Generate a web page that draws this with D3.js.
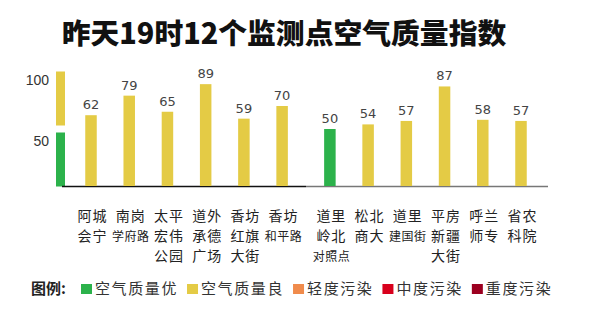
<!DOCTYPE html>
<html><head><meta charset="utf-8">
<script src="https://cdn.jsdelivr.net/npm/d3@7/dist/d3.min.js"></script>
<style>body{margin:0;background:#fff}</style>
</head><body><svg id="c" width="600" height="324"></svg>
<script>
const title = "昨天19时12个监测点空气质量指数";
const stations = [["阿城","会宁"],["南岗","学府路"],["太平","宏伟","公园"],["道外","承德","广场"],["香坊","红旗","大街"],["香坊","和平路"],
                  ["道里","岭北","对照点"],["松北","商大"],["道里","建国街"],["平房","新疆","大街"],["呼兰","师专"],["省农","科院"]];
const aqi = [62,79,65,89,59,70,50,54,57,87,58,57];
const groups = [0,0,0,0,0,0,1,1,1,1,1,1];
const scaleTicks = [50,100];
const legendTitle = "图例:";
const levelNames = ["空气质量优","空气质量良","轻度污染","中度污染","重度污染"];
const levelMax = [50,100,150,200,300];
const levelColors = ["#2cb24b","#e4cb45","#f08b4c","#d8001c","#9c0020"];

const svg = d3.select("#c");
svg.append("rect").attr("width",600).attr("height",324).attr("fill","#fff");

const cjk = "'Noto Sans CJK SC', sans-serif";
svg.append("text").attr("x",284).attr("y",44).attr("text-anchor","middle")
  .attr("font-family",cjk).attr("font-weight",900).attr("font-size",28.8).attr("fill","#111")
  .text(title);

const y = d3.scaleLinear().domain([0,100]).range([186.5,71.5]);
const pos = aqi.map((d,i)=> i + groups[i]*0.25);
const x = d3.scaleLinear().domain([0, d3.max(pos)]).range([91,521]);
const color = v => levelColors[levelMax.findIndex(m => v <= m)];

// scale bar
const segs = scaleTicks.map((t,i)=>({lo: i? scaleTicks[i-1]:0, hi:t}));
const gap = 3.5;
svg.selectAll(".seg").data(segs).join("rect")
  .attr("x",56).attr("width",9)
  .attr("y",d=> y(d.hi) + (d.hi < 100 ? gap : 0))
  .attr("height",d=> y(d.lo) - (d.lo>0 ? gap : 0) - (y(d.hi) + (d.hi < 100 ? gap : 0)))
  .attr("fill",d=> color(d.hi));
svg.selectAll(".tk").data(segs).join("text")
  .attr("x",49).attr("text-anchor","end")
  .attr("y",d=> y(d.hi) + (d.hi < 100 ? gap : 0) + 13.5)
  .attr("font-family","'Liberation Sans', Arial, sans-serif").attr("font-size",14).attr("fill","#333")
  .text(d=>d.hi);

// baseline
const split = (x(pos[5]) + x(pos[6]))/2;
svg.append("line").attr("x1",62).attr("x2",split).attr("y1",y(0)).attr("y2",y(0)).attr("stroke","#111").attr("stroke-width",1.5);
svg.append("line").attr("x1",split).attr("x2",548).attr("y1",y(0)).attr("y2",y(0)).attr("stroke","#777").attr("stroke-width",1.5);

// bars
const bw = 11.5;
svg.selectAll(".bar").data(aqi).join("rect")
  .attr("x",(d,i)=> x(pos[i]) - bw/2).attr("width",bw)
  .attr("y",d=> y(d)).attr("height",d=> y(0)-0.5 - y(d))
  .attr("fill",d=> color(d));
svg.selectAll(".val").data(aqi).join("text")
  .attr("x",(d,i)=> x(pos[i])).attr("y",d=> y(d)-6).attr("text-anchor","middle")
  .attr("font-family","'DejaVu Sans', sans-serif").attr("font-size",13).attr("fill","#444")
  .text(d=>d);

// category labels
stations.forEach((lines,i)=>{
  lines.forEach((s,j)=>{
    const small = s.length >= 3;
    svg.append("text").attr("x", x(pos[i]) + 1.5).attr("y", 221 + 20*j).attr("text-anchor","middle")
      .attr("font-family",cjk).attr("font-size", small?12:14).attr("letter-spacing", small?"0.5px":"1px")
      .attr("fill","#222").text(s);
  });
});

// legend
const lg = svg.append("g");
lg.append("text").attr("x",31).attr("y",294).attr("font-family",cjk).attr("font-weight",700)
  .attr("font-size",15).attr("fill","#222").text(legendTitle);
let lx = 81;
levelNames.forEach((n,i)=>{
  lg.append("rect").attr("x",lx).attr("y",284).attr("width",11).attr("height",10).attr("fill",levelColors[i]);
  const t = lg.append("text").attr("x",lx+14).attr("y",294).attr("font-family",cjk).attr("font-size",15)
    .attr("letter-spacing","1.6px").attr("fill","#333").text(n);
  lx += 14 + t.node().getComputedTextLength() + 9;
});
</script></body></html>
